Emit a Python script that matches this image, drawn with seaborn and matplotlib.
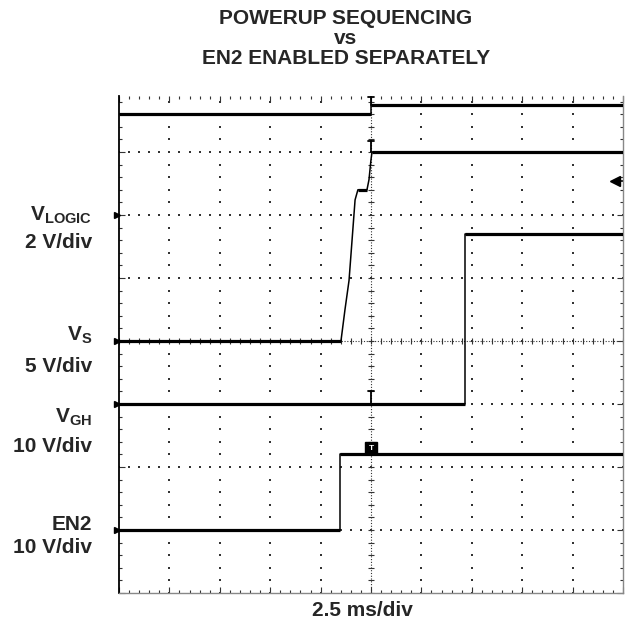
import numpy as np
import pandas as pd
import matplotlib
matplotlib.use('Agg')
import matplotlib.pyplot as plt
import seaborn as sns

# scope channels: scale and ground position (in divisions from the bottom)
channels = ['V_LOGIC', 'V_S', 'V_GH', 'EN2']
volts_per_div = [2, 5, 10, 10]
ground_div = [6, 4, 3, 1]

# traces, time in ms (2.5 ms/div, trigger at 0)
vlogic_t = [-12.5, 0.0, 0.0, 12.5]
vlogic_v = [3.2, 3.2, 3.5, 3.5]
vs_t = [-12.5, -1.49, -1.29, -1.09, -0.94, -0.79, -0.65, -0.20, -0.10, 0.0, 0.05, 12.5]
vs_v = [0.0, 0.0, 2.5, 4.8, 8.0, 11.2, 12.0, 12.0, 12.8, 14.4, 15.0, 15.0]
vgh_t = [-12.5, 4.67, 4.67, 12.5]
vgh_v = [0.0, 0.0, 27.0, 27.0]
en2_t = [-12.5, -1.54, -1.54, 12.5]
en2_v = [0.0, 0.0, 12.0, 12.0]
trig_level_div = 6.54
trig_t = 0.05
trig_mark_h = [0.12, 0.17, 0.2]

left_labels = [r'$\mathbf{V}_{\mathbf{LOGIC}}$', r'$\mathbf{V}_{\mathbf{S}}$',
               r'$\mathbf{V}_{\mathbf{GH}}$', 'EN2']
scale_labels = ['2 V/div', '5 V/div', '10 V/div', '10 V/div']
label_y_px = [220, 340, 422, 530]
scale_y_px = [248, 372, 452, 553]

sns.set_style('white')
plt.rcParams['font.family'] = ['Liberation Sans', 'DejaVu Sans']
plt.rcParams['font.weight'] = 'bold'
plt.rcParams['mathtext.fontset'] = 'custom'
plt.rcParams['mathtext.bf'] = 'Liberation Sans:bold'
plt.rcParams['mathtext.rm'] = 'Liberation Sans:bold'

W, H = 626, 628
fig = plt.figure(figsize=(W / 100, H / 100), dpi=100)
# screen is 8 div tall at 63 px/div, top slightly cropped
ax = fig.add_axes([119 / W, 35 / H, 504 / W, 497 / H])
y_top = 497 / 63
ax.set_xlim(-12.5, 12.5)
ax.set_ylim(0, y_top)

rows = []
for name, tt, vv in zip(channels, [vlogic_t, vs_t, vgh_t, en2_t], [vlogic_v, vs_v, vgh_v, en2_v]):
    i = channels.index(name)
    for t, v in zip(tt, vv):
        rows.append({'t': t, 'div': ground_div[i] + v / volts_per_div[i], 'channel': name})
df = pd.DataFrame(rows)

# graticule: dotted grid with 1/5 div dots
xs_minor = np.arange(-12.5, 12.51, 0.5)
ys_minor = np.arange(0, y_top, 0.2)
gx, gy = [], []
for x in np.arange(-10, 10.1, 2.5):
    if abs(x) > 1e-6:
        gx += [x] * len(ys_minor)
        gy += list(ys_minor)
for y in range(1, 8):
    if y != 4:
        gx += list(xs_minor)
        gy += [y] * len(xs_minor)
ax.scatter(gx, gy, s=1.5, c='#333333', marker='s', linewidths=0, zorder=1)
# center cross
ax.axvline(0, color='#333333', lw=0.8, ls=(0, (1, 1.5)), zorder=1)
ax.axhline(4, color='#333333', lw=0.8, ls=(0, (1, 1.5)), zorder=1)
ax.plot([0] * len(ys_minor), ys_minor, ls='none', marker='_', ms=5, mew=0.8, color='#333333', zorder=1)
ax.plot(xs_minor, [4] * len(xs_minor), ls='none', marker='|', ms=5, mew=0.8, color='#333333', zorder=1)

sns.lineplot(data=df, x='t', y='div', units='channel', estimator=None, sort=False,
             color='black', lw=1.1, ax=ax, legend=False, zorder=3)
# flat parts of the traces look thick from noise
for name, g in df.groupby('channel', sort=False):
    t = g['t'].values
    d = g['div'].values
    for k in range(len(t) - 1):
        if d[k] == d[k + 1] and t[k] != t[k + 1]:
            ax.plot([t[k], t[k + 1]], [d[k], d[k]], color='black', lw=2.3, solid_capstyle='butt', zorder=3)

# trigger marks at t=0
for name, h in zip(['V_LOGIC', 'V_S', 'V_GH'], trig_mark_h):
    g = df[df.channel == name]
    lvl = np.interp(trig_t, g['t'].values, g['div'].values)
    ax.plot([0, 0], [lvl, lvl + h], color='black', lw=1.3, zorder=4)
    ax.plot([-0.15, 0.15], [lvl + h, lvl + h], color='black', lw=1.3, zorder=4)
g = df[df.channel == 'EN2']
en2_hi = np.interp(trig_t, g['t'].values, g['div'].values)
ax.plot([0], [en2_hi + 0.1], marker='s', ms=8, color='black', zorder=4)
ax.text(0, en2_hi + 0.1, 'T', color='white', fontsize=6, ha='center', va='center', zorder=5)

# channel ground markers and trigger level arrow
ax.plot([-12.62] * 4, ground_div, ls='none', marker='>', ms=4, color='black', clip_on=False)
ax.plot([12.1], [trig_level_div], ls='none', marker='<', ms=7, color='black', clip_on=False)
ax.plot([12.1, 12.5], [trig_level_div] * 2, color='black', lw=1.2)

ax.set_xticks(np.arange(-12.5, 12.51, 2.5))
ax.set_yticks(range(0, 8))
ax.set_xticks(xs_minor, minor=True)
ax.set_yticks(ys_minor, minor=True)
ax.tick_params(which='both', direction='in', labelleft=False, labelbottom=False,
               top=True, right=True, left=True, bottom=True, color='#333333')
ax.tick_params(which='major', length=4, width=0.8)
ax.tick_params(which='minor', length=2, width=0.8)
ax.grid(False)
ax.set_xlabel('')
ax.set_ylabel('')
for s in ['bottom', 'right']:
    ax.spines[s].set_color('#888888')
    ax.spines[s].set_linewidth(1.0)
ax.spines['top'].set_visible(False)
ax.spines['left'].set_color('black')
ax.spines['left'].set_linewidth(1.3)

for lab, sc, ly, sy in zip(left_labels, scale_labels, label_y_px, scale_y_px):
    fig.text(92 / W, 1 - ly / H, lab, ha='right', va='baseline', fontsize=15, fontweight='bold')
    fig.text(92 / W, 1 - sy / H, sc, ha='right', va='baseline', fontsize=15, fontweight='bold')

fig.text(346 / W, 1 - 18 / H, 'POWERUP SEQUENCING', ha='center', va='center', fontsize=15, fontweight='bold')
fig.text(346 / W, 1 - 38 / H, 'vs', ha='center', va='center', fontsize=15, fontweight='bold')
fig.text(346 / W, 1 - 59 / H, 'EN2 ENABLED SEPARATELY', ha='center', va='center', fontsize=15, fontweight='bold')
fig.text(362 / W, 1 - 611 / H, '2.5 ms/div', ha='center', va='center', fontsize=15, fontweight='bold')

fig.savefig('out.png', dpi=100)
